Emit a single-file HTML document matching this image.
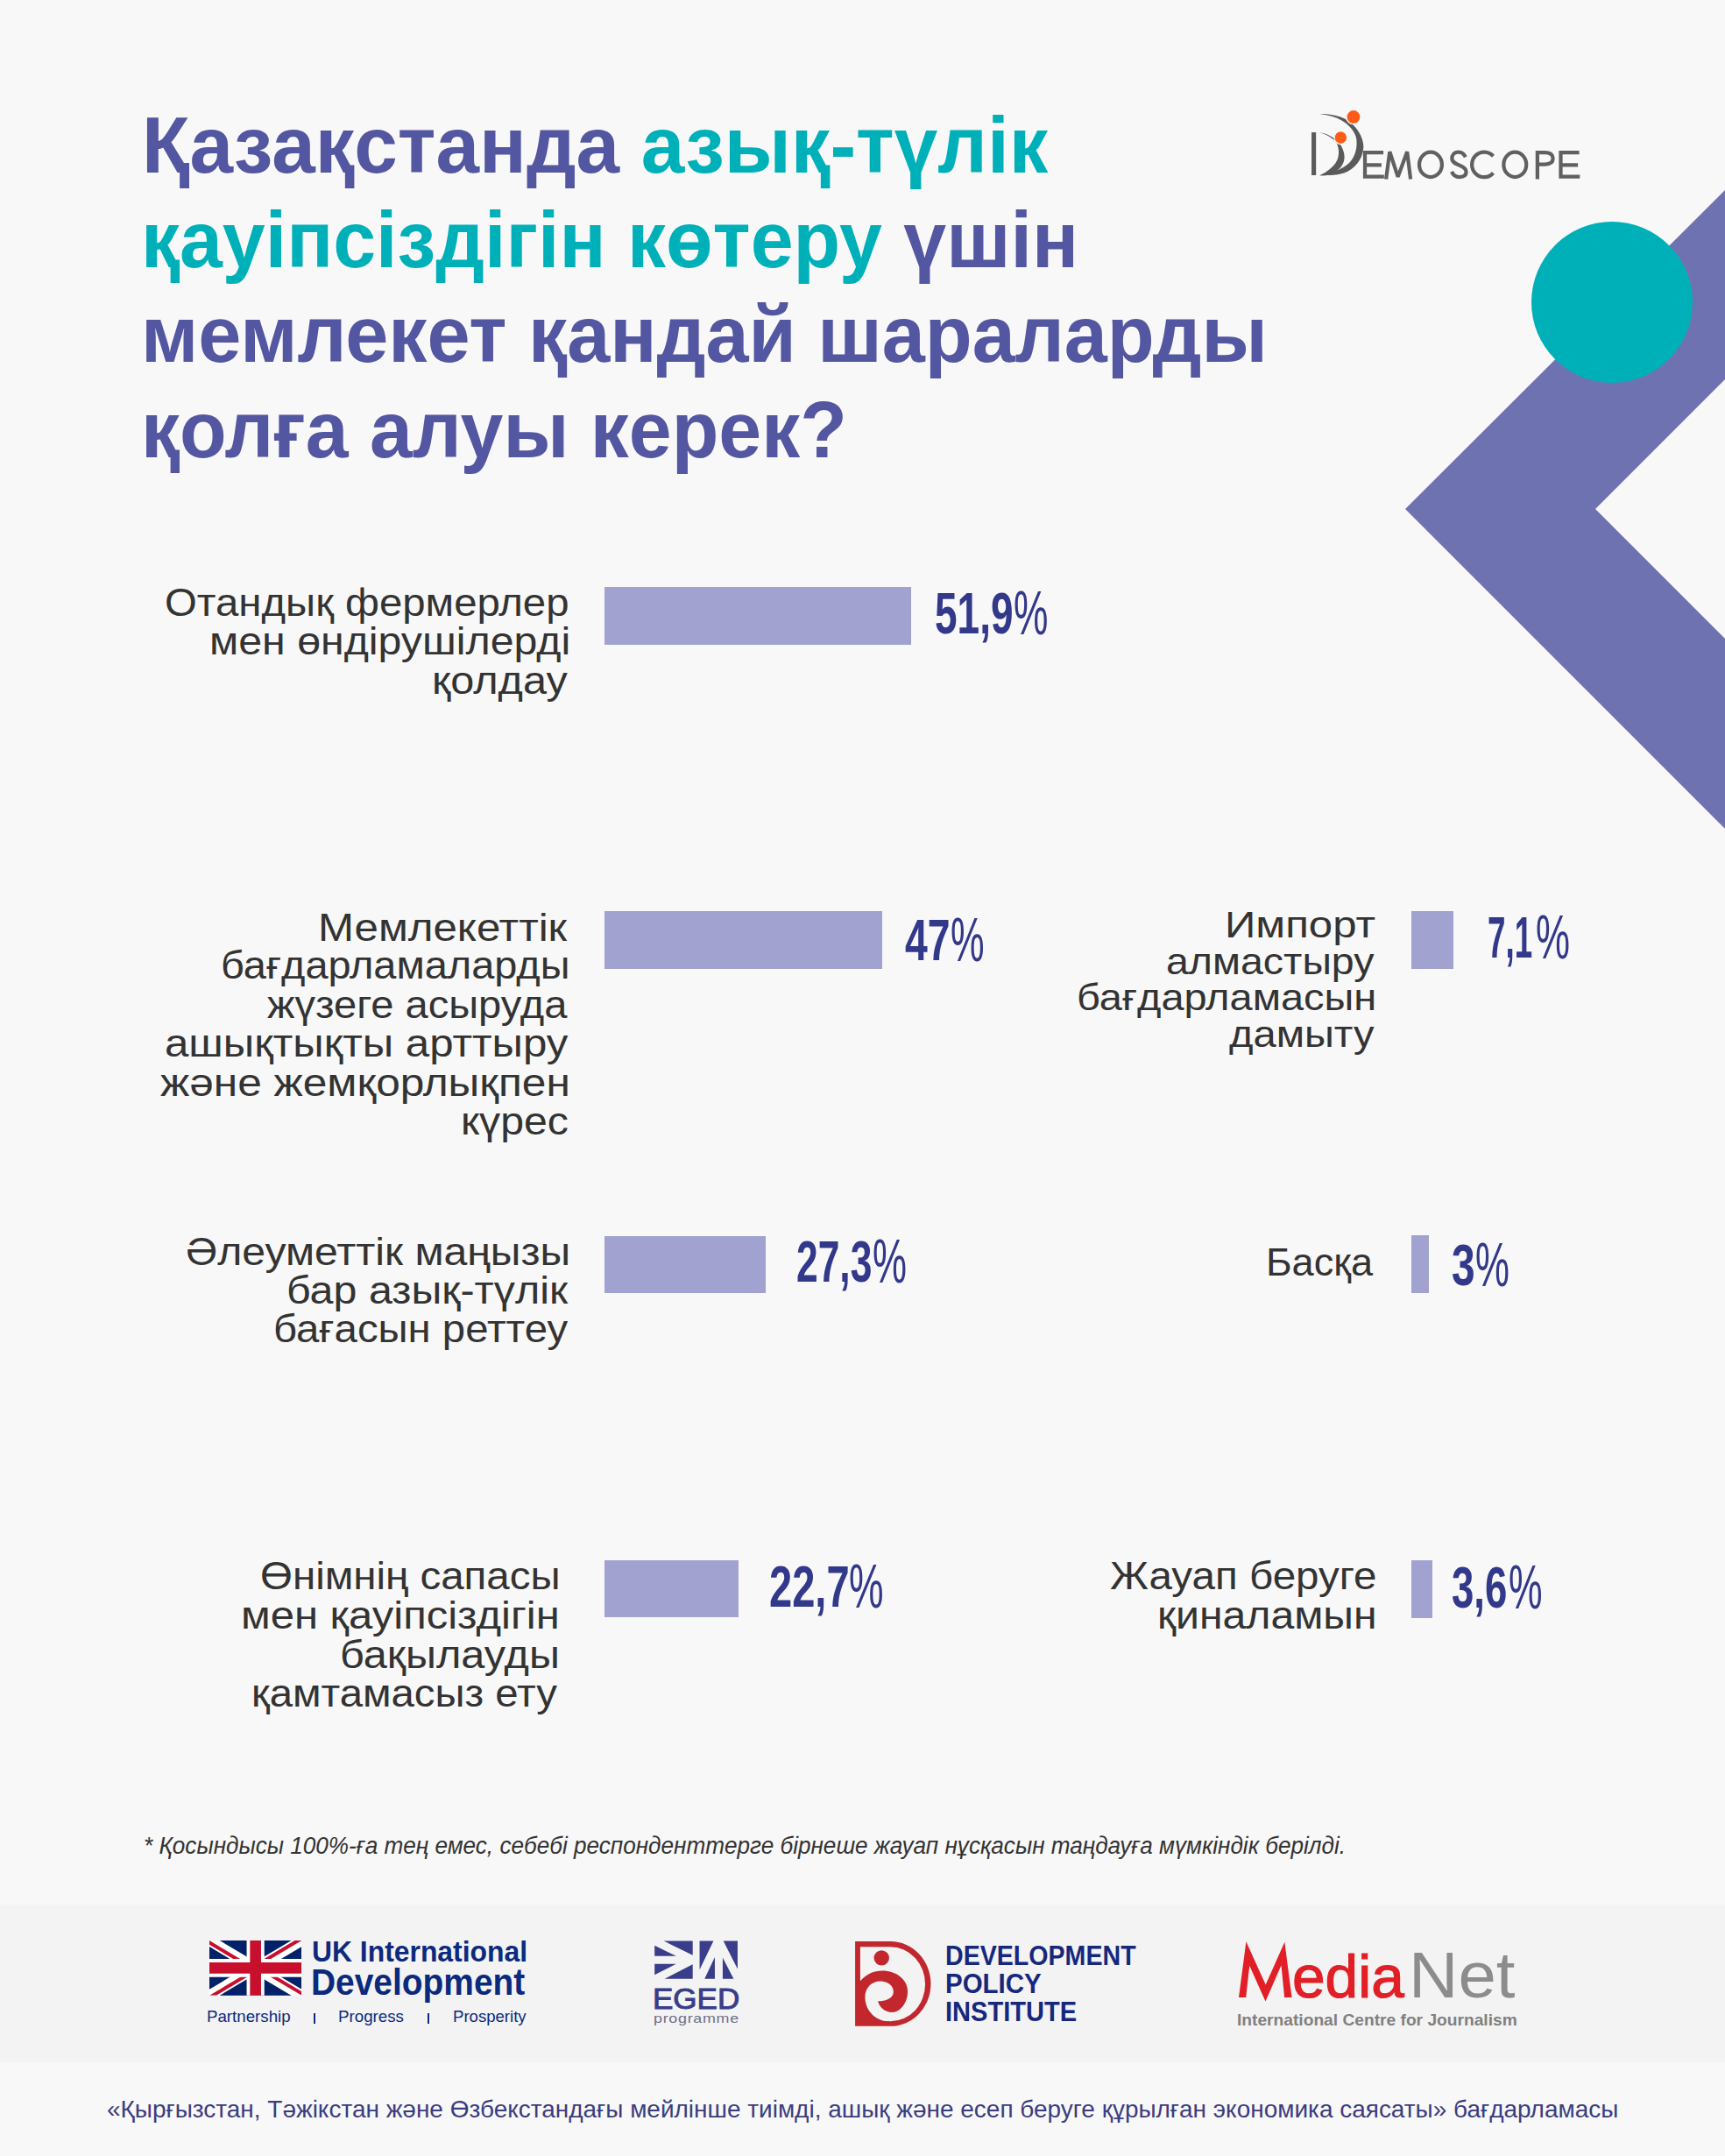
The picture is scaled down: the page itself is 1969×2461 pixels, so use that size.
<!DOCTYPE html>
<html><head><meta charset="utf-8">
<style>
html,body{margin:0;padding:0;}
body{width:1969px;height:2461px;position:relative;overflow:hidden;background:#f8f8f8;font-family:"Liberation Sans",sans-serif;}
.a{position:absolute;white-space:nowrap;line-height:1;transform-origin:left top;}
.bar{position:absolute;background:#a1a2cf;}
</style></head><body>
<!-- footer band -->
<div style="position:absolute;left:0;top:2174px;width:1969px;height:180px;background:#f3f3f3"></div>
<!-- chevron + circle -->
<svg style="position:absolute;left:0;top:0" width="1969" height="1000">
  <polygon points="1969,217 1969,433 1821,581 1969,729 1969,946 1604,581" fill="#6f72b1"/>
  <circle cx="1840" cy="345" r="92" fill="#00b0b9"/>
</svg>
<!-- bars -->
<div class="bar" style="left:690px;top:670px;width:350px;height:66px"></div>
<div class="bar" style="left:690px;top:1040px;width:317px;height:66px"></div>
<div class="bar" style="left:690px;top:1411px;width:184px;height:65px"></div>
<div class="bar" style="left:690px;top:1781px;width:153px;height:65px"></div>
<div class="bar" style="left:1611px;top:1040px;width:48px;height:66px"></div>
<div class="bar" style="left:1611px;top:1410px;width:20px;height:66px"></div>
<div class="bar" style="left:1611px;top:1781px;width:24px;height:66px"></div>
<!-- Demoscope symbol -->
<svg style="position:absolute;left:1490px;top:120px" width="80" height="90" viewBox="0 0 1725 1941">
  <rect x="152" y="670" width="110" height="1055" fill="#5a5a5a"/>
  <path d="M350,215 C650,215 950,270 1150,460 C1350,650 1440,880 1430,1050 C1410,1350 1200,1580 950,1670 C780,1730 560,1735 350,1730 C650,1680 950,1560 1100,1400 C1240,1250 1290,1000 1250,800 C1190,580 1000,420 800,330 C650,265 500,230 350,215 Z" fill="#5a5a5a"/>
  <path d="M340,672 C520,690 700,780 830,930 C930,1060 970,1200 960,1300 C950,1450 860,1580 700,1670 C600,1720 470,1735 350,1730 C520,1650 700,1520 780,1360 C840,1220 830,1050 770,940 C700,820 540,720 340,672 Z" fill="#5a5a5a"/>
  <circle cx="1185" cy="290" r="175" fill="#fe5b16" stroke="#f8f8f8" stroke-width="30"/>
  <circle cx="870" cy="800" r="160" fill="#fe5b16" stroke="#f8f8f8" stroke-width="30"/>
</svg>
<!-- UK flag -->
<svg style="position:absolute;left:238.8px;top:2214.9px" width="105.3" height="62.8" viewBox="0 0 60 30" preserveAspectRatio="none">
  <clipPath id="ukt"><path d="M30,15 h30 v15 z v15 h-30 z h-30 v-15 z v-15 h30 z"/></clipPath>
  <rect width="60" height="30" fill="#012169"/>
  <path d="M0,0 L60,30 M60,0 L0,30" stroke="#fff" stroke-width="6"/>
  <path d="M0,0 L60,30 M60,0 L0,30" clip-path="url(#ukt)" stroke="#C8102E" stroke-width="4"/>
  <path d="M30,0 v30" stroke="#fff" stroke-width="11.5"/><path d="M0,15 h60" stroke="#fff" stroke-width="10"/>
  <path d="M30,0 v30" stroke="#C8102E" stroke-width="7.2"/><path d="M0,15 h60" stroke="#C8102E" stroke-width="6"/>
</svg>
<div style="position:absolute;left:357.8px;top:2297.5px;width:2.2px;height:12px;background:#0b2a7e"></div>
<div style="position:absolute;left:488.2px;top:2297.5px;width:2.2px;height:12px;background:#0b2a7e"></div>
<!-- EGED flag -->
<svg style="position:absolute;left:730px;top:2200px" width="130" height="130" viewBox="0 0 1725 1725">
  <g fill="#393d8a">
  <polygon points="365,205 805,205 805,420"/>
  <polygon points="228,275 228,435 555,435"/>
  <polygon points="228,555 555,555 228,720"/>
  <polygon points="380,780 805,560 805,780"/>
  <polygon points="910,205 1120,205 910,640"/>
  <polygon points="1140,450 1140,780 985,780"/>
  <polygon points="1270,205 1485,205 1485,630"/>
  <polygon points="1260,460 1425,780 1260,780"/>
  </g>
</svg>
<!-- DPI logo -->
<svg style="position:absolute;left:970px;top:2210px" width="100" height="110" viewBox="0 0 1725 1898">
  <path fill="#c1272d" fill-rule="evenodd" d="M105,103 H800 A795,836 0 0 1 800,1775 H105 Z M205,210 H800 A685,735 0 0 1 800,1680 H205 Z"/>
  <path fill="#c1272d" d="M190,885 L205,885 C330,740 480,680 640,680 C920,680 1140,860 1140,1090 C1140,1320 990,1500 830,1500 C690,1500 580,1400 555,1280 C700,1290 860,1220 860,1100 C860,970 740,890 600,890 C420,890 300,1030 300,1200 C300,1460 500,1680 780,1680 L780,1690 L190,1690 Z"/>
  <circle cx="625" cy="430" r="150" fill="#c1272d"/>
</svg>
<!-- EMOSCOPE letters -->
<svg style="position:absolute;left:1550px;top:165px" width="260" height="45" viewBox="0 0 1725 299">
 <g fill="none" stroke="#606060" stroke-width="28">
  <path d="M192,60 H52 V243 H197 M52,155 H177"/>
  <path d="M212,262 L240,55 L302,245 L372,55 L398,262" stroke-linejoin="bevel"/>
  <ellipse cx="550" cy="152" rx="86" ry="94"/>
  <path d="M815,95 C800,65 780,58 762,58 C725,58 712,85 712,105 C712,135 740,145 770,158 C805,172 820,185 820,208 C820,235 800,246 768,246 C740,246 720,230 710,205"/>
  <path d="M1025,88 A93,95 0 1 0 1025,216"/>
  <ellipse cx="1190" cy="152" rx="86" ry="94"/>
  <path d="M1360,262 V60 H1418 C1465,60 1478,85 1478,105 C1478,128 1465,150 1418,150 H1360"/>
  <path d="M1677,60 H1537 V243 H1682 M1537,155 H1667"/>
 </g>
</svg>
<!-- MediaNet M -->
<svg style="position:absolute;left:1390px;top:2190px" width="370" height="150" viewBox="0 0 1725 699">
  <polygon fill="#e11f26" points="112,419 151,122 255,352 356,125 394,419 355,419 338,248 254,440 169,250 150,419"/>
</svg>

<div class="a" id="t1" style="left:162.06px;top:120.77px;font-size:90px;font-weight:bold;color:#5356a0;transform:scaleX(0.9901)">Қазақстанда <span style="color:#00b0b9">азық-түлік</span></div>
<div class="a" id="t2" style="left:160.64px;top:228.77px;font-size:90px;font-weight:bold;color:#5356a0;transform:scaleX(0.9765)"><span style="color:#00b0b9">қауіпсіздігін көтеру</span> үшін</div>
<div class="a" id="t3" style="left:161.12px;top:337.27px;font-size:90px;font-weight:bold;color:#5356a0;transform:scaleX(0.9800)">мемлекет қандай шараларды</div>
<div class="a" id="t4" style="left:161.14px;top:445.77px;font-size:90px;font-weight:bold;color:#5356a0;transform:scaleX(0.9760)">қолға алуы керек?</div>
<div class="a" id="l1a" style="left:187.60px;top:664.78px;font-size:45px;color:#333;transform:scaleX(1.0522)">Отандық фермерлер</div>
<div class="a" id="l1b" style="left:238.58px;top:709.28px;font-size:45px;color:#333;transform:scaleX(1.0730)">мен өндірушілерді</div>
<div class="a" id="l1c" style="left:492.56px;top:753.78px;font-size:45px;color:#333;transform:scaleX(1.0800)">қолдау</div>
<div class="a" id="l2a" style="left:363.03px;top:1035.88px;font-size:45px;color:#333;transform:scaleX(1.0934)">Мемлекеттік</div>
<div class="a" id="l2b" style="left:252.07px;top:1079.38px;font-size:45px;color:#333;transform:scaleX(1.0428)">бағдарламаларды</div>
<div class="a" id="l2c" style="left:305.35px;top:1123.88px;font-size:45px;color:#333;transform:scaleX(1.0457)">жүзеге асыруда</div>
<div class="a" id="l2d" style="left:188.31px;top:1167.88px;font-size:45px;color:#333;transform:scaleX(1.0936)">ашықтықты арттыру</div>
<div class="a" id="l2e" style="left:183.10px;top:1212.88px;font-size:45px;color:#333;transform:scaleX(1.1026)">және жемқорлықпен</div>
<div class="a" id="l2f" style="left:526.18px;top:1257.48px;font-size:45px;color:#333;transform:scaleX(1.0718)">күрес</div>
<div class="a" id="l3a" style="left:211.76px;top:1405.59px;font-size:45px;color:#333;transform:scaleX(1.0692)">Әлеуметтік маңызы</div>
<div class="a" id="l3b" style="left:327.47px;top:1450.09px;font-size:45px;color:#333;transform:scaleX(1.0756)">бар азық-түлік</div>
<div class="a" id="l3c" style="left:311.55px;top:1494.38px;font-size:45px;color:#333;transform:scaleX(1.0514)">бағасын реттеу</div>
<div class="a" id="l4a" style="left:296.79px;top:1776.48px;font-size:45px;color:#333;transform:scaleX(1.0547)">Өнімнің сапасы</div>
<div class="a" id="l4b" style="left:274.83px;top:1820.98px;font-size:45px;color:#333;transform:scaleX(1.0890)">мен қауіпсіздігін</div>
<div class="a" id="l4c" style="left:387.86px;top:1865.79px;font-size:45px;color:#333;transform:scaleX(1.0805)">бақылауды</div>
<div class="a" id="l4d" style="left:287.35px;top:1909.88px;font-size:45px;color:#333;transform:scaleX(1.0514)">қамтамасыз ету</div>
<div class="a" id="l6a" style="left:1445.09px;top:1417.79px;font-size:45px;color:#333;transform:scaleX(1.0025)">Басқа</div>
<div class="a" id="l7a" style="left:1266.74px;top:1776.18px;font-size:45px;color:#333;transform:scaleX(1.0565)">Жауап беруге</div>
<div class="a" id="l7b" style="left:1320.79px;top:1821.29px;font-size:45px;color:#333;transform:scaleX(1.0702)">қиналамын</div>
<div class="a" id="l5a" style="left:1398.49px;top:1035.23px;font-size:42px;color:#333;transform:scaleX(1.1713)">Импорт</div>
<div class="a" id="l5b" style="left:1331.48px;top:1077.03px;font-size:42px;color:#333;transform:scaleX(1.1075)">алмастыру</div>
<div class="a" id="l5c" style="left:1229.14px;top:1117.93px;font-size:42px;color:#333;transform:scaleX(1.1183)">бағдарламасын</div>
<div class="a" id="l5d" style="left:1402.60px;top:1159.63px;font-size:42px;color:#333;transform:scaleX(1.1209)">дамыту</div>
<div class="a" id="p1d" style="left:1067.13px;top:666.25px;font-size:67px;font-weight:bold;color:#32388a;transform:scaleX(0.6865)">51,9</div>
<div class="a" id="p1p" style="left:1156.70px;top:665.21px;font-size:70px;color:#32388a;transform:scaleX(0.6333)">%</div>
<div class="a" id="p2d" style="left:1032.71px;top:1039.25px;font-size:67px;font-weight:bold;color:#32388a;transform:scaleX(0.6915)">47</div>
<div class="a" id="p2p" style="left:1084.74px;top:1038.21px;font-size:70px;color:#32388a;transform:scaleX(0.6193)">%</div>
<div class="a" id="p3d" style="left:908.58px;top:1406.25px;font-size:67px;font-weight:bold;color:#32388a;transform:scaleX(0.6619)">27,3</div>
<div class="a" id="p3p" style="left:995.92px;top:1405.21px;font-size:70px;color:#32388a;transform:scaleX(0.6263)">%</div>
<div class="a" id="p4d" style="left:877.50px;top:1776.65px;font-size:67px;font-weight:bold;color:#32388a;transform:scaleX(0.7024)">22,7</div>
<div class="a" id="p4p" style="left:969.09px;top:1775.61px;font-size:70px;color:#32388a;transform:scaleX(0.6351)">%</div>
<div class="a" id="p5d" style="left:1698.05px;top:1036.25px;font-size:67px;font-weight:bold;color:#32388a;transform:scaleX(0.5489)">7,1</div>
<div class="a" id="p5p" style="left:1753.42px;top:1035.21px;font-size:70px;color:#32388a;transform:scaleX(0.6263)">%</div>
<div class="a" id="p6d" style="left:1656.67px;top:1409.95px;font-size:67px;font-weight:bold;color:#32388a;transform:scaleX(0.7152)">3</div>
<div class="a" id="p6p" style="left:1684.22px;top:1408.91px;font-size:70px;color:#32388a;transform:scaleX(0.6263)">%</div>
<div class="a" id="p7d" style="left:1656.74px;top:1777.95px;font-size:67px;font-weight:bold;color:#32388a;transform:scaleX(0.6798)">3,6</div>
<div class="a" id="p7p" style="left:1721.64px;top:1776.91px;font-size:70px;color:#32388a;transform:scaleX(0.6193)">%</div>
<div class="a" id="fn" style="left:163.76px;top:2094.43px;font-size:27px;font-style:italic;color:#333;transform:scaleX(0.9678)">* Қосындысы 100%-ға тең емес, себебі респонденттерге бірнеше жауап нұсқасын таңдауға мүмкіндік берілді.</div>
<div class="a" id="bt" style="left:121.60px;top:2393.98px;font-size:28px;color:#3b3d80;transform:scaleX(0.9987)">«Қырғызстан, Тәжікстан және Өзбекстандағы мейлінше тиімді, ашық және есеп беруге құрылған экономика саясаты» бағдарламасы</div>
<div class="a" id="uk1" style="left:355.87px;top:2210.75px;font-size:33px;font-weight:bold;color:#0b2a7e;transform:scaleX(0.9653)">UK International</div>
<div class="a" id="uk2" style="left:355.49px;top:2241.28px;font-size:43px;font-weight:bold;color:#0b2a7e;transform:scaleX(0.9045)">Development</div>
<div class="a" id="uk3" style="left:235.73px;top:2292.41px;font-size:19px;color:#0b2a7e;transform:scaleX(0.9840)">Partnership</div>
<div class="a" id="uk4" style="left:386.23px;top:2292.41px;font-size:19px;color:#0b2a7e;transform:scaleX(0.9863)">Progress</div>
<div class="a" id="uk5" style="left:516.65px;top:2292.41px;font-size:19px;color:#0b2a7e;transform:scaleX(0.9771)">Prosperity</div>
<div class="a" id="eg1" style="left:745.14px;top:2263.50px;font-size:34px;color:#393d8a;-webkit-text-stroke:1px #393d8a;transform:scaleX(1.0301)">EGED</div>
<div class="a" id="eg2" style="left:745.81px;top:2296.39px;font-size:15px;letter-spacing:0.6px;color:#6e6e88;transform:scaleX(1.1925)">programme</div>
<div class="a" id="dp1" style="left:1078.88px;top:2216.52px;font-size:31.5px;font-weight:bold;color:#16287e;transform:scaleX(0.9076)">DEVELOPMENT</div>
<div class="a" id="dp2" style="left:1078.83px;top:2248.52px;font-size:31.5px;font-weight:bold;color:#16287e;transform:scaleX(0.9348)">POLICY</div>
<div class="a" id="dp3" style="left:1078.86px;top:2281.02px;font-size:31.5px;font-weight:bold;color:#16287e;transform:scaleX(0.9219)">INSTITUTE</div>
<div class="a" id="mn1" style="left:1475.06px;top:2221.56px;font-size:69px;color:#e11f26;-webkit-text-stroke:1.2px #e11f26;transform:scaleX(0.9797)">edia</div>
<div class="a" id="mn2" style="left:1607.75px;top:2217.47px;font-size:75px;color:#8c8c8c;transform:scaleX(1.0409)">Net</div>
<div class="a" id="mn3" style="left:1411.99px;top:2296.21px;font-size:19px;font-weight:bold;color:#808080;transform:scaleX(1.0095)">International Centre for Journalism</div>
</body></html>
